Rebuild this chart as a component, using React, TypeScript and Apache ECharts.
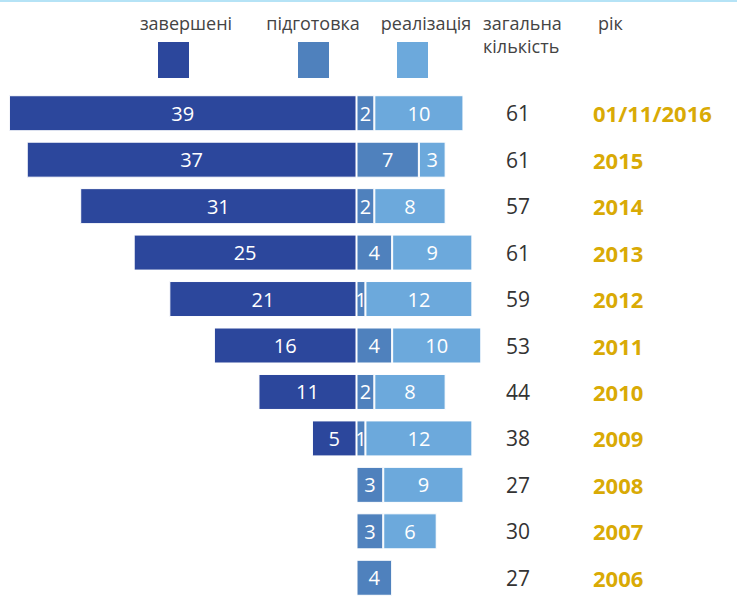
import React, { useEffect, useRef } from "react";
import * as echarts from "echarts";

const years = ["01/11/2016", "2015", "2014", "2013", "2012", "2011", "2010", "2009", "2008", "2007", "2006"];
const completed = [39, 37, 31, 25, 21, 16, 11, 5, 0, 0, 0];
const preparation = [2, 7, 2, 4, 1, 4, 2, 1, 3, 3, 4];
const implementation = [10, 3, 8, 9, 12, 10, 8, 12, 9, 6, 0];
const totals = [61, 61, 57, 61, 59, 53, 44, 38, 27, 30, 27];
const seriesNames = ["завершені", "підготовка", "реалізація"];
const colors = ["#2C479C", "#4F81BD", "#6CA9DC"];
const headerTotal = ["загальна", "кількість"];
const headerYear = "рік";

const FONT = "'Open Sans', 'Noto Sans', sans-serif";

export default function App() {
  const ref = useRef<HTMLDivElement>(null);
  useEffect(() => {
    document.body.style.margin = "0";
    document.body.style.overflow = "hidden";
    const chart = echarts.init(ref.current!, null, { renderer: "svg" });
    const nz = (arr: number[], sign: number) => arr.map((v) => (v > 0 ? sign * v : null));
    const barLabel = {
      show: true,
      position: "inside",
      color: "#ffffff",
      fontSize: 20,
      fontFamily: FONT,
      formatter: (p: any) => String(Math.abs(p.value)),
    };
    const mkSeries = (i: number, data: (number | null)[]) => ({
      type: "bar",
      name: seriesNames[i],
      stack: "s",
      data,
      barWidth: 36,
      itemStyle: { color: colors[i], borderColor: "#ffffff", borderWidth: 1 },
      label: barLabel,
    });
    const legendX = [173, 313, 412];
    const legendTextX = [186, 313, 426];
    const graphic: any[] = [
      { type: "rect", left: 0, top: 0, shape: { x: 0, y: 0, width: 737, height: 2 }, style: { fill: "#B5E3F6" } },
    ];
    seriesNames.forEach((n, i) => {
      graphic.push({
        type: "text",
        x: legendTextX[i],
        y: 23,
        style: { text: n, fill: "#444444", font: `18px ${FONT}`, textAlign: "center", textVerticalAlign: "middle" },
      });
      graphic.push({
        type: "rect",
        shape: { x: legendX[i] - 15, y: 42, width: 31, height: 36 },
        style: { fill: colors[i] },
      });
    });
    headerTotal.forEach((t, i) => {
      graphic.push({
        type: "text",
        x: 483,
        y: 23 + i * 23,
        style: { text: t, fill: "#444444", font: `18px ${FONT}`, textAlign: "left", textVerticalAlign: "middle" },
      });
    });
    graphic.push({
      type: "text",
      x: 598,
      y: 23,
      style: { text: headerYear, fill: "#444444", font: `18px ${FONT}`, textAlign: "left", textVerticalAlign: "middle" },
    });

    const catAxisBase = {
      type: "category",
      data: years,
      inverse: true,
      axisLine: { show: false },
      axisTick: { show: false },
      splitLine: { show: false },
    };
    chart.setOption({
      animation: false,
      grid: { left: -1, top: 90, width: 714, height: 511 },
      xAxis: { type: "value", min: -40, max: 40, show: false, splitLine: { show: false } },
      yAxis: [
        { ...catAxisBase, position: "left", axisLabel: { show: false } },
        {
          ...catAxisBase,
          position: "right",
          axisLabel: {
            show: true,
            interval: 0,
            margin: -195,
            align: "center",
            color: "#333333",
            fontSize: 21,
            fontFamily: FONT,
            formatter: (_v: string, idx: number) => String(totals[idx]),
          },
        },
        {
          ...catAxisBase,
          position: "right",
          axisLabel: {
            show: true,
            interval: 0,
            margin: -120,
            align: "left",
            color: "#D9AA05",
            fontSize: 22,
            fontWeight: "bold",
            fontFamily: FONT,
          },
        },
      ],
      graphic,
      series: [
        mkSeries(0, nz(completed, -1)),
        mkSeries(1, nz(preparation, 1)),
        mkSeries(2, nz(implementation, 1)),
      ],
    });
    return () => chart.dispose();
  }, []);
  return <div ref={ref} style={{ position: "absolute", left: 0, top: 0, width: 737, height: 612 }} />;
}
